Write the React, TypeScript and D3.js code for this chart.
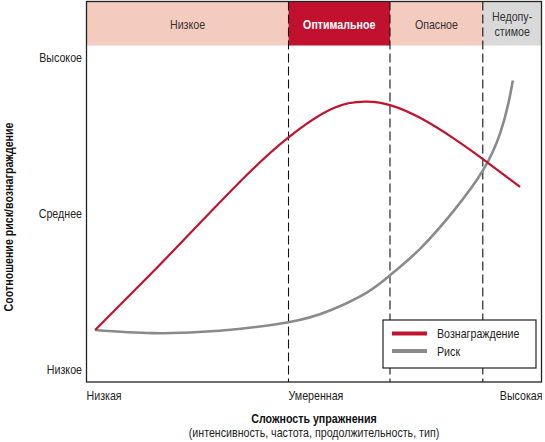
import * as d3 from 'd3';
import { useRef, useEffect } from 'react';

interface Pt {
  x: number;
  y: number;
}

// зоны сложности (границы по оси X, 0..100)
const zoneNames = [['Низкое'], ['Оптимальное'], ['Опасное'], ['Недопу-', 'стимое']];
const zoneEdges = [0, 44.4, 66.7, 87.1, 100];
const zoneFills = ['#f4cbbf', '#c1112f', '#f4cbbf', '#d9d9d9'];
const zoneText = ['#333', '#fff', '#333', '#333'];

const yTickValues = [0, 1, 2];
const yTickLabels = ['Низкое', 'Среднее', 'Высокое'];
const xTickValues = [0, 44.4, 100];
const xTickLabels = ['Низкая', 'Умеренная', 'Высокая'];

const reward: Pt[] = [
  { x: 1.9, y: 0.25 }, { x: 14.5, y: 0.62 }, { x: 24.1, y: 0.91 }, { x: 35.1, y: 1.24 },
  { x: 44.4, y: 1.485 }, { x: 54.2, y: 1.672 }, { x: 61.6, y: 1.714 }, { x: 66.9, y: 1.69 },
  { x: 73.3, y: 1.61 }, { x: 80.6, y: 1.48 }, { x: 87.2, y: 1.344 }, { x: 95.3, y: 1.168 },
];
const risk: Pt[] = [
  { x: 1.9, y: 0.25 }, { x: 14.5, y: 0.23 }, { x: 29.2, y: 0.245 }, { x: 44.4, y: 0.3 },
  { x: 53.5, y: 0.375 }, { x: 61.6, y: 0.49 }, { x: 66.9, y: 0.605 }, { x: 73.3, y: 0.77 },
  { x: 80.6, y: 1.01 }, { x: 87.2, y: 1.276 }, { x: 90.9, y: 1.51 }, { x: 92.7, y: 1.7 },
  { x: 93.7, y: 1.85 },
];

const series = [
  { name: 'Вознаграждение', data: reward, color: '#c1132f', width: 2.2 },
  { name: 'Риск', data: risk, color: '#8a8a8a', width: 2.6 },
];

const W = 545;
const H = 442;
const FONT = '"Liberation Sans", Arial, sans-serif';
const NARROW = 0.82; // имитация узкого начертания

// текст узким шрифтом: сжимаем по горизонтали
function narrowText(parent: any, x: number, y: number, lines: string[], opts: {
  size?: number; anchor?: string; weight?: string; fill?: string; lh?: number;
} = {}) {
  const t = parent.append('text')
    .attr('transform', `translate(${x},${y}) scale(${NARROW},1)`)
    .attr('text-anchor', opts.anchor || 'start')
    .attr('font-family', FONT)
    .attr('font-size', opts.size || 13)
    .attr('font-weight', opts.weight || 'normal')
    .attr('fill', opts.fill || '#222');
  lines.forEach((s, j) => {
    t.append('tspan').attr('x', 0).attr('y', j * (opts.lh || 15)).text(s);
  });
  return t;
}

const RiskChart = () => {
  const ref = useRef<SVGSVGElement>(null);

  useEffect(() => {
    if (!ref.current) return;
    const svg = d3.select(ref.current);
    svg.selectAll('*').remove();

    const left = 86.5, right = 541.5, top = 1.5, bandBottom = 45.5, bottom = 382;
    const x = d3.scaleLinear().domain([0, 100]).range([left, right]);
    const y = d3.scaleLinear().domain([0, 2]).range([369, 57]);

    // полоса зон
    const zones = svg.append('g');
    zoneNames.forEach((lines, i) => {
      const x0 = x(zoneEdges[i]), x1 = x(zoneEdges[i + 1]);
      zones.append('rect')
        .attr('x', x0).attr('y', top)
        .attr('width', x1 - x0).attr('height', bandBottom - top)
        .attr('fill', zoneFills[i]);
      narrowText(zones, (x0 + x1) / 2, lines.length === 1 ? 28.5 : 21, lines, {
        anchor: 'middle', fill: zoneText[i], weight: i === 1 ? 'bold' : 'normal',
      });
    });

    // пунктирные границы
    svg.append('g')
      .selectAll('line')
      .data(zoneEdges.slice(1, -1))
      .join('line')
        .attr('x1', d => x(d)).attr('x2', d => x(d))
        .attr('y1', top).attr('y2', bottom)
        .attr('stroke', '#111')
        .attr('stroke-width', 1.1)
        .attr('stroke-dasharray', '9,4');

    // рамка
    svg.append('rect')
      .attr('x', left).attr('y', top)
      .attr('width', right - left).attr('height', bottom - top)
      .attr('fill', 'none')
      .attr('stroke', '#222')
      .attr('stroke-width', 1.3);

    // кривые
    const line = d3.line<Pt>()
      .x(d => x(d.x))
      .y(d => y(d.y))
      .curve(d3.curveNatural);

    svg.append('g')
      .selectAll('path')
      .data(series.slice().reverse())
      .join('path')
        .attr('d', d => line(d.data))
        .attr('fill', 'none')
        .attr('stroke', d => d.color)
        .attr('stroke-width', d => d.width);

    // подписи оси Y
    const yAxis = svg.append('g');
    yTickValues.forEach((v, i) => {
      narrowText(yAxis, 82, y(v) + 4.5, [yTickLabels[i]], { anchor: 'end' });
    });

    // подписи оси X
    const xAxis = svg.append('g');
    xTickValues.forEach((v, i) => {
      const last = i === xTickValues.length - 1;
      narrowText(xAxis, x(v) + (last ? 1 : 0), 400, [xTickLabels[i]], {
        anchor: last ? 'end' : 'start',
      });
    });

    // заголовки осей
    const cx = (left + right) / 2;
    narrowText(svg, cx, 423, ['Сложность упражнения'], { anchor: 'middle', weight: 'bold', fill: '#111' });
    narrowText(svg, cx, 437, ['(интенсивность, частота, продолжительность, тип)'], { anchor: 'middle' });
    const yTitle = svg.append('g').attr('transform', 'translate(13, 217) rotate(-90)');
    narrowText(yTitle, 0, 0, ['Соотношение риск/вознаграждение'], {
      anchor: 'middle', weight: 'bold', fill: '#111',
    });

    // легенда
    const lg = svg.append('g').attr('transform', 'translate(383, 320)');
    lg.append('rect')
      .attr('width', 153).attr('height', 48)
      .attr('fill', '#fff')
      .attr('stroke', '#222')
      .attr('stroke-width', 1.2);
    series.forEach((s, i) => {
      const ly = 13.5 + i * 17.5;
      lg.append('line')
        .attr('x1', 9).attr('x2', 44)
        .attr('y1', ly).attr('y2', ly)
        .attr('stroke', s.color)
        .attr('stroke-width', 4);
      narrowText(lg, 54, ly + 4.5, [s.name]);
    });
  }, []);

  return (
    <svg
      ref={ref}
      width={W}
      height={H}
      style={{ position: 'absolute', left: 0, top: 0, background: '#fff' }}
    ></svg>
  );
};

export default function App() {
  return <RiskChart />;
}
